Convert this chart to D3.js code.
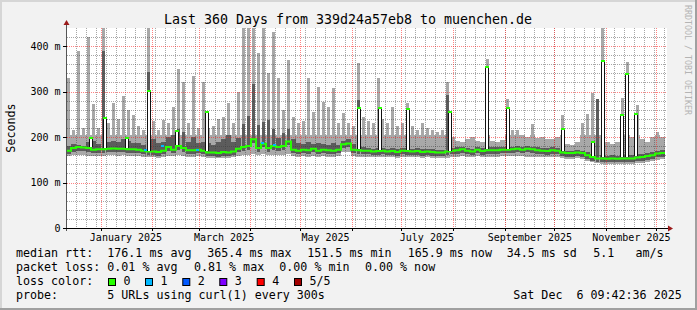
<!DOCTYPE html>
<html>
<head>
<meta charset="utf-8">
<script src="https://cdn.jsdelivr.net/npm/d3@7"></script>
<style>
  body { margin: 0; background: #f2f2f2; }
  svg text { font-family: "DejaVu Sans Mono", monospace; white-space: pre; }
</style>
</head>
<body>
<svg id="chart"></svg>
<script>
// canvas and plot box
const width = 697;
const height = 310;
const plot = { left: 67, top: 28, right: 667, bottom: 228 };

// time range of the graph, data comes in 3 day bins
const startTime = new Date("2024-12-11T09:42:36Z");
const endTime = new Date("2025-12-06T09:42:36Z");
const binDays = 3;

// median rtt per bin (ms)
const median = [
  170,176,178,177,176,172,173,173,174,175,
  174,174,173,173,172,170,168,168,167,170,
  178,172,180,176,171,171,172,170,166,166,
  165,167,166,168,174,178,180,195,176,185,
  176,180,178,180,190,172,170,172,171,174,
  170,172,171,170,172,184,186,172,171,170,
  170,168,169,170,168,169,167,170,169,168,
  169,167,168,167,166,166,168,170,171,173,
  170,168,172,169,171,171,171,172,172,173,
  174,172,174,173,171,170,169,171,170,166,
  165,165,166,165,160,156,153,153,152,153,
  152,153,153,153,155,156,158,160,164,165
];
// lowest ping per bin (ms)
const smokeLow = [
  158,160,161,160,159,158,158,159,160,160,
  159,160,159,158,158,156,155,155,154,156,
  158,158,160,159,157,157,158,156,154,154,
  153,154,154,155,158,160,160,162,160,163,
  160,160,160,160,162,158,157,158,157,158,
  157,158,157,157,158,166,168,158,157,157,
  156,155,155,156,155,155,154,155,155,155,
  155,154,155,154,153,153,154,156,157,158,
  156,155,158,156,156,157,157,158,159,158,
  158,158,157,157,156,156,157,157,156,153,
  152,152,153,152,148,144,142,141,141,141,
  140,141,141,141,142,143,145,147,150,151
];
// highest ping per bin (ms)
const smokeHigh = [
  330,215,390,220,420,272,220,440,230,275,
  240,290,260,248,225,215,440,235,215,237,
  230,265,350,320,230,334,220,320,220,225,
  240,245,274,230,300,440,440,440,385,440,
  340,430,330,260,369,245,230,235,330,255,
  310,277,265,307,230,253,230,225,362,244,
  235,230,329,240,230,266,225,230,274,225,
  215,230,220,215,210,215,320,200,192,190,
  195,200,192,190,371,192,190,193,283,215,
  215,205,200,228,198,200,195,195,200,248,
  185,182,188,231,250,296,283,440,190,185,
  190,285,365,200,270,195,190,200,210,200
];
// top of the dense smoke around the median (ms)
const smokeDark = [
  180,184,182,180,188,192,184,390,188,192,
  188,196,192,186,186,182,343,196,186,190,
  200,205,218,210,190,200,186,190,186,182,
  190,196,205,188,198,228,246,316,226,232,
  238,218,198,208,218,196,186,184,190,184,
  186,184,182,186,182,192,195,184,281,178,
  176,174,175,176,174,175,173,176,175,174,
  175,173,174,173,172,172,292,176,177,179,
  176,174,178,175,177,177,177,178,178,179,
  180,178,180,179,177,176,175,177,176,172,
  170,170,171,170,166,162,283,160,159,160,
  159,160,160,160,162,163,164,166,170,171
];

// single samples where the median jumped up
const spikeTimes = [
  "2024-12-26T06:00Z","2025-01-03T16:00Z","2025-01-16T22:00Z","2025-01-30T04:00Z",
  "2025-02-16T00:00Z","2025-03-06T01:00Z","2025-06-05T18:00Z","2025-06-18T02:00Z",
  "2025-07-04T23:00Z","2025-07-30T05:00Z","2025-08-21T11:00Z","2025-09-03T02:00Z",
  "2025-10-06T04:00Z","2025-10-24T05:00Z","2025-10-30T05:00Z","2025-11-10T23:00Z",
  "2025-11-13T16:00Z","2025-11-19T09:00Z"
];
const spikeValues = [197,241,197,302,214,255,263,263,261,255,354,264,218,189,366,248,338,250];

// samples with 1 of 5 lost
const lossTimes = ["2025-01-27T18:00Z","2025-02-06T23:00Z","2025-02-28T00:00Z","2025-04-08T03:00Z","2025-04-15T08:00Z"];
const lossValues = [171,181,172,187,182];

// axis labels
const yTicks = [0, 100, 200, 300, 400];
const yTickLabels = ["0", "100 m", "200 m", "300 m", "400 m"];
const monthLabels = ["January 2025", "March 2025", "May 2025", "July 2025", "September 2025", "November 2025"];
const monthLabelDates = ["2025-01-01", "2025-03-01", "2025-05-01", "2025-07-01", "2025-09-01", "2025-11-01"];

// legend
const rttStats = ["176.1 ms avg", "365.4 ms max", "151.5 ms min", "165.9 ms now", "34.5 ms sd", "5.1   am/s"];
const lossStats = ["0.01 % avg", "0.81 % max", "0.00 % min", "0.00 % now"];
const lossLevels = ["0", "1", "2", "3", "4", "5/5"];
const lossColors = ["#26ff00", "#00b8ff", "#0059ff", "#7e00ff", "#ff0000", "#a10000"];
const probeText = "5 URLs using curl(1) every 300s";
const stampText = "Sat Dec  6 09:42:36 2025";

const svg = d3.select("#chart")
  .attr("width", width)
  .attr("height", height);

// background and 3d frame
svg.append("rect").attr("width", width).attr("height", height).attr("fill", "#f2f2f2");
svg.append("rect").attr("x", 0).attr("y", 0).attr("width", width).attr("height", 2).attr("fill", "#d6d6d6");
svg.append("rect").attr("x", 0).attr("y", 0).attr("width", 2).attr("height", height).attr("fill", "#d6d6d6");
svg.append("rect").attr("x", 0).attr("y", height - 2).attr("width", width).attr("height", 2).attr("fill", "#a0a0a0");
svg.append("rect").attr("x", width - 2).attr("y", 0).attr("width", 2).attr("height", height).attr("fill", "#a0a0a0");

svg.append("rect")
  .attr("x", plot.left).attr("y", plot.top)
  .attr("width", plot.right - plot.left).attr("height", plot.bottom - plot.top)
  .attr("fill", "#ffffff");

// scales
const xScale = d3.scaleUtc()
  .domain([startTime, endTime])
  .range([66.3, 664.8]);

const yScale = d3.scaleLinear()
  .domain([0, 439.6])
  .range([plot.bottom, plot.top]);

const binStart = i => d3.utcDay.offset(startTime, i * binDays);
const binX = i => Math.round(xScale(binStart(i)));
const binW = i => binX(i + 1) - binX(i);

// smoke: body of each bin full width, tall outliers drawn thin
const bodyCap = 205;
const smoke = svg.append("g").attr("shape-rendering", "crispEdges");
smoke.selectAll(".light")
  .data(smokeHigh)
  .join("rect")
  .attr("x", (d, i) => binX(i))
  .attr("width", (d, i) => binW(i))
  .attr("y", d => yScale(Math.min(d, bodyCap)))
  .attr("height", (d, i) => yScale(smokeLow[i]) - yScale(Math.min(d, bodyCap)))
  .attr("fill", "#a8a8a8");

smoke.selectAll(".tall")
  .data(smokeHigh)
  .join("rect")
  .attr("x", (d, i) => binX(i) + 1)
  .attr("width", (d, i) => Math.max(binW(i) - 2, 2))
  .attr("y", d => yScale(d))
  .attr("height", d => Math.max(yScale(bodyCap) - yScale(d), 0))
  .attr("fill", "#a8a8a8");

smoke.selectAll(".dark")
  .data(smokeDark)
  .join("rect")
  .attr("x", (d, i) => binX(i) + (d > bodyCap ? 1 : 0))
  .attr("width", (d, i) => d > bodyCap ? Math.max(binW(i) - 2, 2) : binW(i))
  .attr("y", d => yScale(d))
  .attr("height", (d, i) => yScale(median[i] - 8) - yScale(d))
  .attr("fill", "#5c5c5c");

// grid on top of the smoke
const grid = svg.append("g").attr("shape-rendering", "crispEdges");
const minorColor = "rgba(60,60,60,0.45)";
const majorColor = "rgba(255,30,30,0.55)";
const minorY = d3.range(20, 440, 20).filter(v => v % 100 !== 0);
grid.selectAll(".hminor")
  .data(minorY)
  .join("line")
  .attr("x1", plot.left).attr("x2", plot.right)
  .attr("y1", d => Math.round(yScale(d)) + 0.5)
  .attr("y2", d => Math.round(yScale(d)) + 0.5)
  .attr("stroke", minorColor)
  .attr("stroke-dasharray", "1,1");

const dayTicks = [];
for (let t = d3.utcDay.floor(startTime); t <= endTime; t = d3.utcDay.offset(t, 6)) {
  if (t >= startTime) dayTicks.push(t);
}
grid.selectAll(".vminor")
  .data(dayTicks)
  .join("line")
  .attr("x1", d => Math.round(xScale(d)) + 0.5)
  .attr("x2", d => Math.round(xScale(d)) + 0.5)
  .attr("y1", plot.top).attr("y2", plot.bottom)
  .attr("stroke", minorColor)
  .attr("stroke-dasharray", "1,1");

const monthTicks = d3.utcMonth.range(startTime, endTime);
grid.selectAll(".vmajor")
  .data(monthTicks)
  .join("line")
  .attr("x1", d => Math.round(xScale(d)) + 0.5)
  .attr("x2", d => Math.round(xScale(d)) + 0.5)
  .attr("y1", plot.top).attr("y2", plot.bottom)
  .attr("stroke", majorColor)
  .attr("stroke-dasharray", "1,1");

grid.selectAll(".hmajor")
  .data(yTicks.slice(1))
  .join("line")
  .attr("x1", plot.left).attr("x2", plot.right)
  .attr("y1", d => Math.round(yScale(d)) + 0.5)
  .attr("y2", d => Math.round(yScale(d)) + 0.5)
  .attr("stroke", majorColor)
  .attr("stroke-dasharray", "1,1");

// median line
const medianPoints = median.map((d, i) => [binX(i), yScale(d)]);
medianPoints.push([binX(median.length), yScale(median[median.length - 1])]);
svg.append("path")
  .attr("d", d3.line().curve(d3.curveStepAfter)(medianPoints))
  .attr("fill", "none")
  .attr("stroke", lossColors[0])
  .attr("stroke-width", 2);

// median spikes: black edges, hollow middle, loss colour on top
const spikes = svg.append("g").attr("shape-rendering", "crispEdges");
spikeTimes.forEach((t, k) => {
  const time = new Date(t);
  const xc = Math.round(xScale(time));
  const bin = Math.floor((time - startTime) / (binDays * 864e5));
  const base = Math.round(yScale(median[bin])) - 1;
  const top = Math.round(yScale(spikeValues[k]));
  spikes.append("rect").attr("x", xc - 1).attr("y", top).attr("width", 2).attr("height", base - top).attr("fill", "#ffffff");
  spikes.append("rect").attr("x", xc - 2).attr("y", top).attr("width", 1).attr("height", base - top).attr("fill", "#111");
  spikes.append("rect").attr("x", xc + 1).attr("y", top).attr("width", 1).attr("height", base - top).attr("fill", "#111");
  spikes.append("rect").attr("x", xc - 2).attr("y", top - 1).attr("width", 4).attr("height", 2).attr("fill", lossColors[0]);
});

svg.append("g").attr("shape-rendering", "crispEdges")
  .selectAll("rect")
  .data(lossTimes)
  .join("rect")
  .attr("x", d => Math.round(xScale(new Date(d))) - 1)
  .attr("y", (d, i) => Math.round(yScale(lossValues[i])) - 1)
  .attr("width", 3).attr("height", 2)
  .attr("fill", lossColors[1]);

// axes
const axes = svg.append("g").attr("shape-rendering", "crispEdges");
axes.append("line")
  .attr("x1", plot.left - 0.5).attr("x2", plot.left - 0.5)
  .attr("y1", plot.bottom + 3).attr("y2", plot.top - 4)
  .attr("stroke", "#555");
axes.append("line")
  .attr("x1", plot.left - 4).attr("x2", plot.right + 2)
  .attr("y1", plot.bottom + 0.5).attr("y2", plot.bottom + 0.5)
  .attr("stroke", "#000");
axes.selectAll(".ytick")
  .data(yTicks)
  .join("line")
  .attr("x1", plot.left - 4).attr("x2", plot.left)
  .attr("y1", d => Math.round(yScale(d)) + 0.5)
  .attr("y2", d => Math.round(yScale(d)) + 0.5)
  .attr("stroke", "#000");
axes.selectAll(".xtick")
  .data(monthTicks)
  .join("line")
  .attr("x1", d => Math.round(xScale(d)) + 0.5)
  .attr("x2", d => Math.round(xScale(d)) + 0.5)
  .attr("y1", plot.bottom).attr("y2", plot.bottom + 3)
  .attr("stroke", "#000");

svg.append("path")
  .attr("d", `M${plot.left - 3.5},${plot.top - 3} L${plot.left + 2.5},${plot.top - 3} L${plot.left - 0.5},${plot.top - 8} Z`)
  .attr("fill", "#9b1b1b");
svg.append("path")
  .attr("d", `M${plot.right + 1},${plot.bottom - 2.5} L${plot.right + 1},${plot.bottom + 3.5} L${plot.right + 6},${plot.bottom + 0.5} Z`)
  .attr("fill", "#9b1b1b");

// tick labels
svg.append("g")
  .selectAll("text")
  .data(yTicks)
  .join("text")
  .attr("x", 60.5)
  .attr("y", d => yScale(d) + 3.6)
  .attr("text-anchor", "end")
  .attr("font-size", "10px")
  .attr("fill", "#000")
  .text((d, i) => yTickLabels[i]);

svg.append("g")
  .selectAll("text")
  .data(monthLabels)
  .join("text")
  .attr("x", (d, i) => xScale(d3.utcDay.offset(new Date(monthLabelDates[i] + "T00:00Z"), 15)) + 0.5)
  .attr("y", 241)
  .attr("text-anchor", "middle")
  .attr("font-size", "10px")
  .attr("fill", "#000")
  .text(d => d);

// titles
svg.append("text")
  .attr("x", 348).attr("y", 24)
  .attr("text-anchor", "middle")
  .attr("font-size", "13.3px")
  .text("Last 360 Days from 339d24a57eb8 to muenchen.de");

svg.append("text")
  .attr("transform", "translate(14.5,128) rotate(-90)")
  .attr("text-anchor", "middle")
  .attr("font-size", "11.7px")
  .text("Seconds");

svg.append("text")
  .attr("transform", "translate(685,5) rotate(90)")
  .attr("text-anchor", "start")
  .attr("font-size", "8.3px")
  .attr("fill", "#b4b4b4")
  .text("RRDTOOL / TOBI OETIKER");

// legend
const legend = svg.append("g").attr("font-size", "11.66px").attr("fill", "#000");
legend.append("text").attr("x", 16).attr("y", 257).text("median rtt:");
const rttX = [107.3, 207.3, 307.3, 407.7, 506.7, 593.3];
rttStats.forEach((s, i) => legend.append("text").attr("x", rttX[i]).attr("y", 257).text(s));

legend.append("text").attr("x", 16).attr("y", 271).text("packet loss:");
const lossX = [107.3, 194, 279.3, 365];
lossStats.forEach((s, i) => legend.append("text").attr("x", lossX[i]).attr("y", 271).text(s));

legend.append("text").attr("x", 16).attr("y", 285).text("loss color:");
const boxX = [108, 145, 182.3, 219.3, 256.7, 294];
lossLevels.forEach((s, i) => {
  legend.append("rect")
    .attr("x", boxX[i] + 0.5).attr("y", 278.5)
    .attr("width", 7).attr("height", 7)
    .attr("fill", lossColors[i])
    .attr("stroke", "#000");
  legend.append("text").attr("x", boxX[i] + 15.5).attr("y", 285).text(s);
});

legend.append("text").attr("x", 16).attr("y", 299).text("probe:");
legend.append("text").attr("x", 107.3).attr("y", 299).text(probeText);
legend.append("text").attr("x", 513.3).attr("y", 299).text(stampText);
</script>
</body>
</html>
